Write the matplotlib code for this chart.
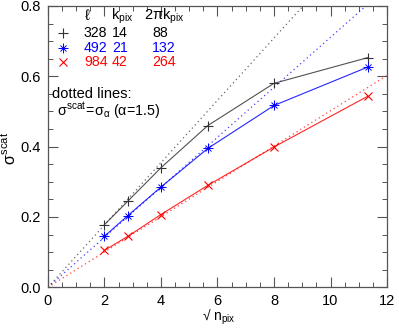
import numpy as np
import matplotlib
matplotlib.use("Agg")
import matplotlib.pyplot as plt
from matplotlib.lines import Line2D
from matplotlib.ticker import MultipleLocator, FormatStrFormatter

plt.rcParams['font.family'] = ['Liberation Sans', 'DejaVu Sans']
plt.rcParams['mathtext.fontset'] = 'custom'
plt.rcParams['mathtext.rm'] = 'Liberation Sans'
plt.rcParams['mathtext.it'] = 'Liberation Sans'

sqrt_npix = [2.0, 2.83, 4.0, 5.66, 8.0, 11.31]
sig_328 = [0.178, 0.245, 0.340, 0.460, 0.580, 0.653]
sig_492 = [0.145, 0.204, 0.285, 0.395, 0.517, 0.626]
sig_984 = [0.105, 0.145, 0.207, 0.290, 0.399, 0.543]
# slopes of the dotted sigma_alpha lines (sigma vs sqrt n_pix)
alpha_slopes = [0.0886, 0.0711, 0.0502]

ells = ['328', '492', '984']
kpix = ['14', '21', '42']
twopik = ['88', '132', '264']
colors = ['#333333', '#0000ff', '#ff0000']
text_colors = ['#000000', '#0000ff', '#ff0000']

W, H = 399, 332
fig = plt.figure(figsize=(W / 100, H / 100), dpi=100)
ax = fig.add_axes([0.120, 0.1346, 0.850, 0.8474])

xd = np.array([0.0, 12.0])
for s, c in zip(alpha_slopes, colors):
    ax.plot(xd, s * xd, ls=(0, (1, 2.5)), color=c, lw=0.9, alpha=0.75)

def marker_set(i):
    if i == 0:
        return [dict(marker='+', ms=7, mew=0.8)]
    if i == 1:
        return [dict(marker='+', ms=7, mew=0.7), dict(marker='x', ms=5, mew=0.7)]
    return [dict(marker='x', ms=5.5, mew=0.8)]

series = [sig_328, sig_492, sig_984]
for i, (ys, c) in enumerate(zip(series, colors)):
    ax.plot(sqrt_npix, ys, '-', color=c, lw=0.8, alpha=0.85)
    for m in marker_set(i):
        ax.plot(sqrt_npix, ys, ls='none', color=c, **m)

ax.set_xlim(0, 12)
ax.set_ylim(0, 0.8)
ax.xaxis.set_major_locator(MultipleLocator(2))
ax.xaxis.set_minor_locator(MultipleLocator(0.5))
ax.yaxis.set_major_locator(MultipleLocator(0.2))
ax.yaxis.set_minor_locator(MultipleLocator(0.05))
ax.yaxis.set_major_formatter(FormatStrFormatter('%.1f'))
ax.tick_params(which='both', direction='in', top=True, right=True, labelsize=10.5, color='#555555')
ax.tick_params(which='major', length=7, width=0.8, pad=5)
ax.tick_params(which='minor', length=3.5, width=0.7)
for sp in ax.spines.values():
    sp.set_color('#555555')
    sp.set_linewidth(0.9)

def tx(px, py, s, c='k', ha='left', size=10, va='center', **kw):
    fig.text(px / W, 1 - py / H, s, color=c, ha=ha, va=va, fontsize=size, **kw)

# axis labels
tx(219, 317, '√ n$_{\\mathrm{pix}}$', ha='center', size=10)
tx(9, 148, '$\\sigma^{\\mathrm{scat}}$', ha='center', size=11.5, rotation=90)

# legend-like table
tx(84, 16, r'$\ell$', size=11)
tx(111, 16, r'$\mathrm{k}_{\mathrm{pix}}$', size=10.5)
tx(144, 16, r'$2\pi\mathrm{k}_{\mathrm{pix}}$', size=10.5)
rows_y = [33, 48, 62]
for i in range(3):
    tx(84, rows_y[i], ells[i], text_colors[i], size=10.2)
    tx(112, rows_y[i], kpix[i], text_colors[i], size=10.2)
    tx(152, rows_y[i], twopik[i], text_colors[i], size=10.2)
    for m in marker_set(i):
        fig.lines.append(Line2D([63 / W], [1 - rows_y[i] / H], color=colors[i],
                                transform=fig.transFigure, **m))

tx(52, 94, 'dotted lines:', size=10.5)
tx(57, 110.5, r'$\sigma^{\mathrm{scat}}\!=\!\sigma_{\alpha}$ ($\alpha$=1.5)', size=10.3)

fig.savefig('out.png', dpi=100)
